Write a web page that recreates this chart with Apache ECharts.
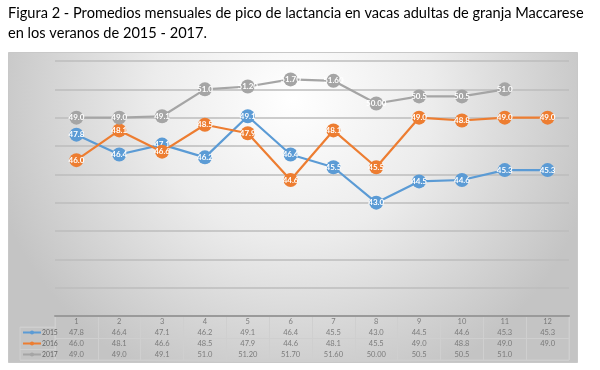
<!DOCTYPE html>
<html>
<head>
<meta charset="utf-8">
<script src="https://cdn.jsdelivr.net/npm/echarts@6/dist/echarts.min.js"></script>
<style>
html,body{margin:0;padding:0;background:#fff;}
#c{width:600px;height:370px;}
</style>
</head>
<body>
<div id="c"></div>
<script>
var titleLines = ['Figura 2 - Promedios mensuales de pico de lactancia en vacas adultas de granja Maccarese',
                  'en los veranos de 2015 - 2017.'];
var months = ['1','2','3','4','5','6','7','8','9','10','11','12'];
var seriesNames = ['2015','2016','2017'];
var values2015 = ['47.8','46.4','47.1','46.2','49.1','46.4','45.5','43.0','44.5','44.6','45.3','45.3'];
var values2016 = ['46.0','48.1','46.6','48.5','47.9','44.6','48.1','45.5','49.0','48.8','49.0','49.0'];
var values2017 = ['49.0','49.0','49.1','51.0','51.20','51.70','51.60','50.00','50.5','50.5','51.0',''];
var yTicks = {min: 35, max: 53, interval: 2};
var colors = ['#5B9BD5','#ED7D31','#A5A5A5'];

var allValues = [values2015, values2016, values2017];
var chart = echarts.init(document.getElementById('c'), null, {renderer:'canvas'});

function lineData(arr){
  return arr.map(function(s){ return s === '' ? null : {value: parseFloat(s), txt: s}; });
}
function cellData(arr, row){
  var out = [];
  arr.forEach(function(s,i){ if(s !== '') out.push({value:[i,row], txt:s}); });
  return out;
}

var series = [];
seriesNames.forEach(function(n, k){
  series.push({
    name: n, type: 'line', xAxisIndex: 0, yAxisIndex: 0,
    data: lineData(allValues[k]),
    symbol: 'circle', symbolSize: 14,
    lineStyle: {width: 2.2, color: colors[k]},
    itemStyle: {color: colors[k]},
    label: {show: true, position: 'inside', color: '#fff', fontSize: 8, fontWeight: 'bold',
            fontFamily: 'Lato', formatter: function(p){ return p.data.txt; }},
    z: 3 + k
  });
});
// table cells
var cellStyle = {show: true, position: 'inside', color: '#666', fontSize: 7.5, fontFamily: 'Lato',
                 formatter: function(p){ return p.data.txt; }};
series.push({
  name: 'hdr', type: 'scatter', xAxisIndex: 1, yAxisIndex: 1, symbolSize: 0,
  data: months.map(function(m,i){ return {value:[i,0], txt:m}; }), label: cellStyle, silent: true
});
allValues.forEach(function(arr,k){
  series.push({
    name: 'row' + k, type: 'scatter', xAxisIndex: 1, yAxisIndex: 1, symbolSize: 0,
    data: cellData(arr, k+1), label: cellStyle, silent: true
  });
});

var option = {
  animation: false,
  title: {
    text: titleLines.join('\n'), left: 8, top: 3, padding: 0,
    textStyle: {fontSize: 14.6, fontWeight: 'normal', color: '#000', fontFamily: 'Lato', lineHeight: 20}
  },
  graphic: [{
    type: 'rect', z: -10, silent: true,
    shape: {x: 8.5, y: 52.5, width: 569, height: 310},
    style: {
      fill: new echarts.graphic.RadialGradient(0.5, 0.15, 1.0, [
        {offset: 0, color: '#ffffff'}, {offset: 0.45, color: '#ececec'}, {offset: 1, color: '#c4c4c4'}
      ]),
      stroke: '#c8c8c8', lineWidth: 1
    }
  }],
  legend: {
    data: seriesNames, orient: 'vertical', left: 22, top: 327,
    itemWidth: 18, itemHeight: 5, itemGap: 0,
    textStyle: {fontSize: 6.8, color: '#666', fontFamily: 'Lato', lineHeight: 11, padding: [0,0,0,-4]},
    padding: 0
  },
  grid: [
    {left: 55, right: 31, top: 61, bottom: 54},
    {left: 55, right: 31, top: 316, bottom: 10, show: true, borderColor: '#cfcfcf', borderWidth: 1},
    {left: 20, width: 35, top: 327, bottom: 10, show: true, borderColor: '#cfcfcf', borderWidth: 1}
  ],
  xAxis: [
    {gridIndex: 0, type: 'category', data: months, boundaryGap: true,
     axisLine: {show: true, lineStyle: {color: '#9a9a9a', width: 2}}, axisTick: {show: false},
     axisLabel: {show: false}},
    {gridIndex: 1, type: 'category', data: months, boundaryGap: true,
     axisLine: {show: false}, axisTick: {show: false}, axisLabel: {show: false},
     splitLine: {show: true, lineStyle: {color: '#cfcfcf', width: 1}}},
    {gridIndex: 2, type: 'category', data: [''], show: false}
  ],
  yAxis: [
    {gridIndex: 0, type: 'value', min: yTicks.min, max: yTicks.max, interval: yTicks.interval,
     axisLine: {show: false}, axisTick: {show: false}, axisLabel: {show: false},
     splitLine: {show: true, lineStyle: {color: '#bcbcbc', width: 1.5}}},
    {gridIndex: 1, type: 'category', data: ['h'].concat(seriesNames), inverse: true,
     axisLine: {show: false}, axisTick: {show: false}, axisLabel: {show: false},
     splitLine: {show: true, lineStyle: {color: '#cfcfcf', width: 1}}},
    {gridIndex: 2, type: 'category', data: seriesNames, inverse: true,
     axisLine: {show: false}, axisTick: {show: false}, axisLabel: {show: false},
     splitLine: {show: true, lineStyle: {color: '#cfcfcf', width: 1}}}
  ],
  series: series
};
chart.setOption(option);
</script>
</body>
</html>
